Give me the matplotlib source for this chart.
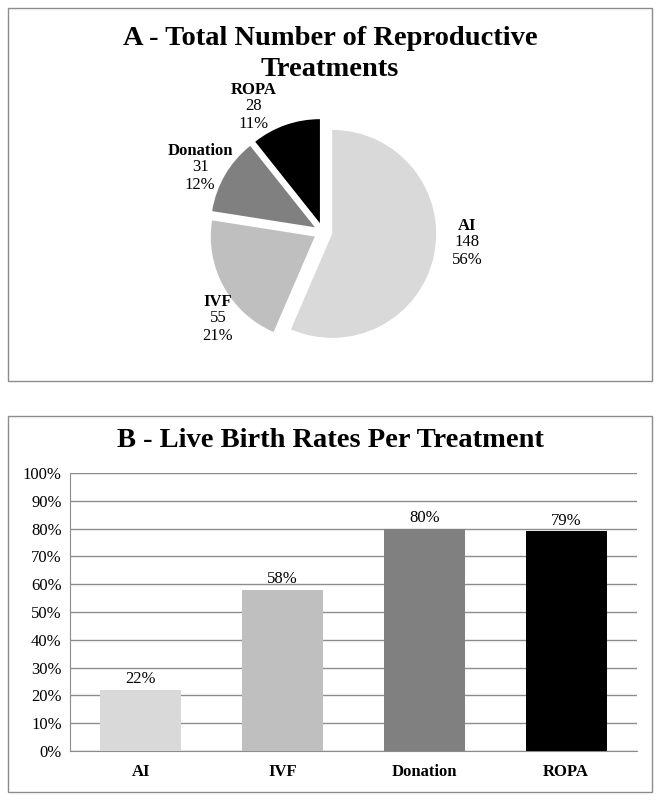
import numpy as np
import matplotlib
matplotlib.use('Agg')
import matplotlib.pyplot as plt
from matplotlib.patches import Rectangle

plt.rcParams['font.family'] = ['Liberation Serif', 'DejaVu Serif']

# data
treatments = ['AI', 'IVF', 'Donation', 'ROPA']
counts = [148, 55, 31, 28]
count_pct = ['56%', '21%', '12%', '11%']
birth_rates = [0.22, 0.58, 0.80, 0.79]
colors = ['#d9d9d9', '#bfbfbf', '#808080', '#000000']
# where the data labels sit round the pie (pie radius = 1)
label_xy = [(1.385, -0.02), (-1.01, -0.75), (-1.18, 0.70), (-0.67, 1.29)]

W, H = 659, 800
fig = plt.figure(figsize=(W / 100, H / 100), dpi=100)

# panel frames
for y0, y1 in [(8, 381), (416, 792)]:
    fig.patches.append(Rectangle((8 / W, 1 - y1 / H), 644 / W, (y1 - y0) / H,
                                 transform=fig.transFigure, fill=False,
                                 edgecolor='#8c8c8c', linewidth=1))

# ---- A: pie
fig.text(330 / W, 1 - 54 / H, 'A - Total Number of Reproductive\nTreatments',
         ha='center', va='center', fontsize=20.5, fontweight='bold', linespacing=1.3)

R = 104
lim = 1.7
size = 2 * lim * R
cx, cy = 323, 232
axp = fig.add_axes([(cx - size / 2) / W, 1 - (cy + size / 2) / H, size / W, size / H])
wedges, _ = axp.pie(counts, colors=colors, startangle=90, counterclock=False,
                    explode=[0.09] * 4, radius=1.0)
axp.set_xlim(-lim, lim)
axp.set_ylim(-lim, lim)
axp.set_aspect('equal')
axp.axis('off')

for (x, y), name, c, p in zip(label_xy, treatments, counts, count_pct):
    axp.text(x, y, name, ha='center', va='bottom', fontsize=12, fontweight='bold')
    axp.text(x, y, f'{c}\n{p}', ha='center', va='top', fontsize=12, linespacing=1.15)

# ---- B: bars
fig.text(330 / W, 1 - 440 / H, 'B - Live Birth Rates Per Treatment',
         ha='center', va='center', fontsize=20.5, fontweight='bold')

axb = fig.add_axes([70 / W, 1 - 751 / H, 567 / W, 278 / H])
xs = np.arange(len(treatments))
bars = axb.bar(xs, birth_rates, width=0.57, color=colors, zorder=3)
axb.set_xlim(-0.5, len(treatments) - 0.5)
axb.set_ylim(0, 1)
ticks = np.arange(0, 1.01, 0.1)
axb.set_yticks(ticks)
axb.set_yticklabels([f'{int(round(v * 100))}%' for v in ticks], fontsize=12)
axb.set_xticks(xs)
axb.set_xticklabels(treatments, fontsize=12, fontweight='bold')
axb.tick_params(length=0, pad=6)
axb.tick_params(axis='x', pad=9)
axb.grid(axis='y', color='#8c8c8c', linewidth=1, zorder=0)
for s in ['top', 'right']:
    axb.spines[s].set_visible(False)
axb.spines['left'].set_color('#8c8c8c')
axb.spines['bottom'].set_color('#8c8c8c')
for b, v in zip(bars, birth_rates):
    axb.text(b.get_x() + b.get_width() / 2, v + 0.01, f'{int(round(v * 100))}%',
             ha='center', va='bottom', fontsize=12)

fig.savefig('out.png', dpi=100)
